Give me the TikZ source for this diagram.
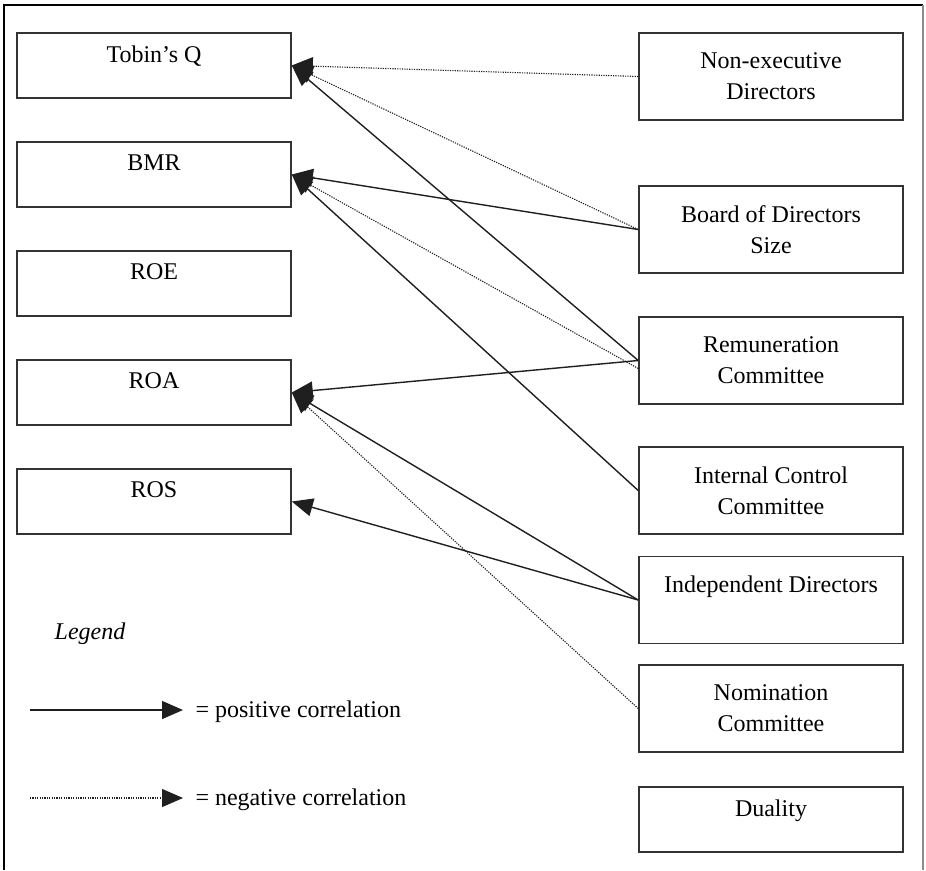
\documentclass[tikz,border=0pt]{standalone}
\usepackage{fontspec}
\setmainfont{Liberation Serif}
\usetikzlibrary{arrows.meta}
\tikzset{
  lbox/.style={draw=black!80, line width=1.6pt, minimum width=274pt, minimum height=65pt,
    align=center, font=\fontsize{24}{31}\selectfont},
  rbox/.style={lbox, minimum width=264pt, minimum height=87pt},
  posarrow/.style={line width=1.4pt, draw=black!88, -{Triangle[length=21pt,width=18pt]}},
  negarrow/.style={posarrow, line width=1.1pt, dash pattern=on 1.2pt off 1.2pt},
}
\begin{document}
\begin{tikzpicture}[x=1pt,y=-1pt]
\useasboundingbox (0,0) rectangle (926,870);
\draw[line width=1.2pt] (4,870) -- (4,5) -- (923,5);
\draw[line width=1.2pt, black!45] (923,5) -- (923,870);

\node[lbox] (TQ)  at (154,65.5)  {Tobin’s Q\\[-8pt] ~};
\node[lbox] (BMR) at (154,174.5) {BMR\\[-8pt] ~};
\node[lbox] (ROE) at (154,283.5) {ROE\\[-8pt] ~};
\node[lbox] (ROA) at (154,392.5) {ROA\\[-8pt] ~};
\node[lbox] (ROS) at (154,501.5) {ROS\\[-8pt] ~};

\node[rbox] (NED) at (771,76.5)  {Non-executive\\ Directors};
\node[rbox] (BDS) at (771,229.5) {Board of Directors\\ Size};
\node[rbox] (RC)  at (771,360.5) {Remuneration\\ Committee};
\node[rbox] (ICC) at (771,490.5) {Internal Control\\ Committee};
\node[rbox] (ID)  at (771,600)   {Independent Directors\\ ~};
\node[rbox] (NC)  at (771,708.5) {Nomination\\ Committee};
\node[rbox, minimum height=65pt] (DU) at (771,819.5) {Duality\\[-8pt] ~};

\draw[negarrow] (NED.west) -- (TQ.east);
\draw[negarrow] (BDS.west) -- (TQ.east);
\draw[posarrow] (RC.west) -- (TQ.east);
\draw[posarrow] (BDS.west) -- (BMR.east);
\draw[negarrow] ([yshift=-8pt]RC.west) -- (BMR.east);
\draw[posarrow] (ICC.west) -- (BMR.east);
\draw[posarrow] (RC.west) -- (ROA.east);
\draw[posarrow] (ID.west) -- (ROA.east);
\draw[negarrow] (NC.west) -- (ROA.east);
\draw[posarrow] (ID.west) -- (ROS.east);

\node[font=\fontsize{24}{31}\selectfont\itshape] (LG) at (90,634) {Legend};
\coordinate (P1) at (30,710);
\coordinate (P2) at (183,710);
\coordinate (N1) at (30,798);
\coordinate (N2) at (183,798);
\draw[posarrow] (P1) -- (P2);
\draw[negarrow] (N1) -- (N2);
\node[anchor=west, font=\fontsize{24}{31}\selectfont] (PT) at (192,712) {= positive correlation};
\node[anchor=west, font=\fontsize{24}{31}\selectfont] (NT) at (192,800) {= negative correlation};
\end{tikzpicture}
\end{document}
